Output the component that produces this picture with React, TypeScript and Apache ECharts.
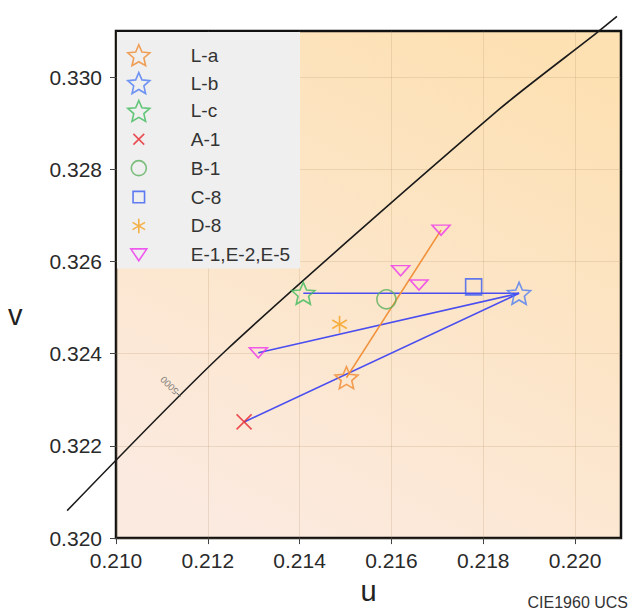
import { useEffect, useRef } from 'react';
import * as echarts from 'echarts';

// ---------- data ----------
const U_TICKS = [0.21, 0.212, 0.214, 0.216, 0.218, 0.22];
const V_TICKS = [0.32, 0.322, 0.324, 0.326, 0.328, 0.33];

const L_A = [0.21502, 0.32348];
const L_B = [0.21878, 0.32531];
const L_C = [0.21408, 0.32531];
const A_1 = [0.21279, 0.32252];
const B_1 = [0.21589, 0.32518];
const C_8 = [0.21779, 0.32545];
const D_8 = [0.21487, 0.32464];
const E_PTS = [
  [0.2131, 0.32402],
  [0.2162, 0.3258],
  [0.2166, 0.32549],
  [0.21708, 0.32668],
];

// black reference curve (locus)
const LOCUS = [
  [0.208936, 0.320596],
  [0.212411, 0.324086],
  [0.218349, 0.329303],
  [0.22045, 0.330943],
  [0.220912, 0.331316],
];
const ISO_LABEL = '5000';
const ISO_FOOT = [0.2114, 0.323071];
const ISO_END = [0.211324, 0.323147];

const BLUE_SEGMENTS = [
  [L_C, L_B],
  [E_PTS[0], L_B],
  [A_1, L_B],
];
const ORANGE_SEGMENT = [L_A, E_PTS[3]];

// ---------- shapes ----------
function starPath(): string {
  const R = 50;
  const r = 23;
  const pts: string[] = [];
  for (let i = 0; i < 10; i++) {
    const ang = (-90 + i * 36) * (Math.PI / 180);
    const rad = i % 2 === 0 ? R : r;
    pts.push(`${(50 + rad * Math.cos(ang)).toFixed(2)},${(50 + rad * Math.sin(ang)).toFixed(2)}`);
  }
  return 'M' + pts.join('L') + 'Z';
}
const STAR_D = starPath();
const X_D = 'M0,0L10,10M10,0L0,10';
const AST_D = 'M5,0L5,10M0.67,2.5L9.33,7.5M0.67,7.5L9.33,2.5';
const TRI_D = 'M0,0L18,0L9,13.5Z';
const CIRC_D = 'M0,7.5A7.5,7.5,0,1,1,15,7.5A7.5,7.5,0,1,1,0,7.5Z';
const SQ_D = 'M0,0L12,0L12,12L0,12Z';

const FONT = 'Liberation Sans, Arial, sans-serif';

const MARKERS = [
  { name: 'L-a', data: [L_A], symbol: 'path://' + STAR_D, size: 23, color: '#f08a30', icon: 'path://' + STAR_D },
  { name: 'L-b', data: [L_B], symbol: 'path://' + STAR_D, size: 23, color: '#4d7cf2', icon: 'path://' + STAR_D },
  { name: 'L-c', data: [L_C], symbol: 'path://' + STAR_D, size: 23, color: '#3dba5a', icon: 'path://' + STAR_D },
  { name: 'A-1', data: [A_1], symbol: 'path://' + X_D, size: 15, color: '#e8262c', icon: 'path://M-5.2,-5.2M15.2,15.2' + X_D },
  { name: 'B-1', data: [B_1], symbol: 'circle', size: 19, color: '#5cb05e', icon: 'path://M-3.5,-3.5M18.5,18.5' + CIRC_D },
  { name: 'C-8', data: [C_8], symbol: 'rect', size: 16, color: '#3a5cf2', icon: 'path://M-5.5,-5.5M17.5,17.5' + SQ_D },
  { name: 'D-8', data: [D_8], symbol: 'path://' + AST_D, size: 17, color: '#f5a01e', icon: 'path://M-2.6,-2.6M12.6,12.6' + AST_D },
  { name: 'E-1,E-2,E-5', data: E_PTS, symbol: 'path://' + TRI_D, size: [18, 13.5], color: '#ee35ee', icon: 'path://M-3.4,-5.6M21.4,19.1' + TRI_D },
];

function buildOption() {
  const markerSeries = MARKERS.map((m) => ({
    type: 'scatter',
    name: m.name,
    data: m.data,
    symbol: m.symbol,
    symbolSize: m.size,
    symbolKeepAspect: true,
    itemStyle: { color: 'rgba(0,0,0,0)', borderColor: m.color, borderWidth: 1.6 },
    z: 5,
  }));

  const blueSeries = BLUE_SEGMENTS.map((seg, i) => ({
    type: 'line',
    name: 'blue' + i,
    data: seg,
    symbol: 'none',
    silent: true,
    lineStyle: { color: '#4a4ef0', width: 1.6 },
    z: 3,
  }));

  return {
    animation: false,
    backgroundColor: '#ffffff',
    textStyle: { fontFamily: FONT },
    grid: {
      left: 116,
      right: 10,
      top: 31,
      bottom: 71,
      show: true,
      borderColor: '#111111',
      borderWidth: 2.5,
      backgroundColor: new echarts.graphic.LinearGradient(0.75, 0, 0.25, 1, [
        { offset: 0, color: '#fde1b3' },
        { offset: 1, color: '#fbeae0' },
      ]),
    },
    legend: {
      data: MARKERS.map((m) => ({ name: m.name, icon: m.icon })),
      orient: 'vertical',
      left: 117,
      top: 32,
      itemWidth: 22,
      itemHeight: 22,
      itemGap: 5.3,
      padding: [12, 10, 2, 10],
      backgroundColor: '#efefef',
      itemStyle: { borderWidth: 1.6 },
      textStyle: { fontSize: 19, color: '#333', fontFamily: FONT, padding: [0, 0, 0, 36] },
      selectedMode: false,
    },
    xAxis: {
      type: 'value',
      min: 0.21,
      max: 0.221,
      interval: 0.001,
      axisLine: { show: false },
      axisTick: { show: true, customValues: U_TICKS, length: 6, lineStyle: { color: '#444' } },
      axisLabel: {
        customValues: U_TICKS,
        formatter: (v: number) => v.toFixed(3),
        fontSize: 21,
        color: '#2a2a2a',
        margin: 12,
        fontFamily: FONT,
      },
      splitLine: { show: true, lineStyle: { color: 'rgba(170,135,90,0.2)', width: 1 } },
      name: 'u',
      nameLocation: 'middle',
      nameGap: 36,
      nameTextStyle: { fontSize: 29, color: '#222', fontFamily: FONT },
    },
    yAxis: {
      type: 'value',
      min: 0.32,
      max: 0.331,
      interval: 0.001,
      axisLine: { show: false },
      axisTick: { show: true, customValues: V_TICKS, length: 6, lineStyle: { color: '#444' } },
      axisLabel: {
        customValues: V_TICKS,
        formatter: (v: number) => v.toFixed(3),
        fontSize: 21,
        color: '#2a2a2a',
        margin: 14,
        fontFamily: FONT,
      },
      splitLine: { show: true, lineStyle: { color: 'rgba(170,135,90,0.2)', width: 1 } },
    },
    graphic: [
      {
        type: 'text',
        left: 8,
        top: 300,
        style: { text: 'v', fontSize: 29, fill: '#222', fontFamily: FONT },
      },
      {
        type: 'text',
        right: 3,
        top: 594,
        style: { text: 'CIE1960 UCS', fontSize: 16, fill: '#333', fontFamily: FONT },
      },
    ],
    series: [
      {
        type: 'custom',
        name: 'locus',
        data: [LOCUS[1]],
        clip: false,
        silent: true,
        z: 2,
        renderItem: (_params: any, api: any) => ({
          type: 'polyline',
          shape: { points: LOCUS.map((p) => api.coord(p)), smooth: 0.25 },
          style: { stroke: '#1a1a1a', lineWidth: 1.6, fill: 'none' },
        }),
      },
      {
        type: 'line',
        name: 'isoTick',
        data: [ISO_FOOT, ISO_END],
        symbol: 'none',
        silent: true,
        lineStyle: { color: '#555', width: 1 },
        z: 2,
      },
      {
        type: 'scatter',
        name: 'isoLabel',
        data: [ISO_END],
        symbolSize: 1,
        silent: true,
        itemStyle: { color: 'rgba(0,0,0,0)' },
        label: {
          show: true,
          formatter: ISO_LABEL,
          position: 'inside',
          align: 'left',
          verticalAlign: 'middle',
          rotate: 135,
          fontSize: 9.5,
          color: '#666',
          fontFamily: FONT,
        },
        z: 2,
      },
      ...blueSeries,
      {
        type: 'line',
        name: 'orange',
        data: ORANGE_SEGMENT,
        symbol: 'none',
        silent: true,
        lineStyle: { color: '#f2913a', width: 1.6 },
        z: 3,
      },
      ...markerSeries,
    ],
  };
}

export default function App() {
  const ref = useRef<HTMLDivElement>(null);
  useEffect(() => {
    if (!ref.current) return;
    const chart = echarts.init(ref.current, null, { renderer: 'svg' });
    chart.setOption(buildOption() as any);
    return () => chart.dispose();
  }, []);
  return (
    <div
      ref={ref}
      style={{ position: 'absolute', left: 0, top: 0, width: 631, height: 610 }}
    />
  );
}
